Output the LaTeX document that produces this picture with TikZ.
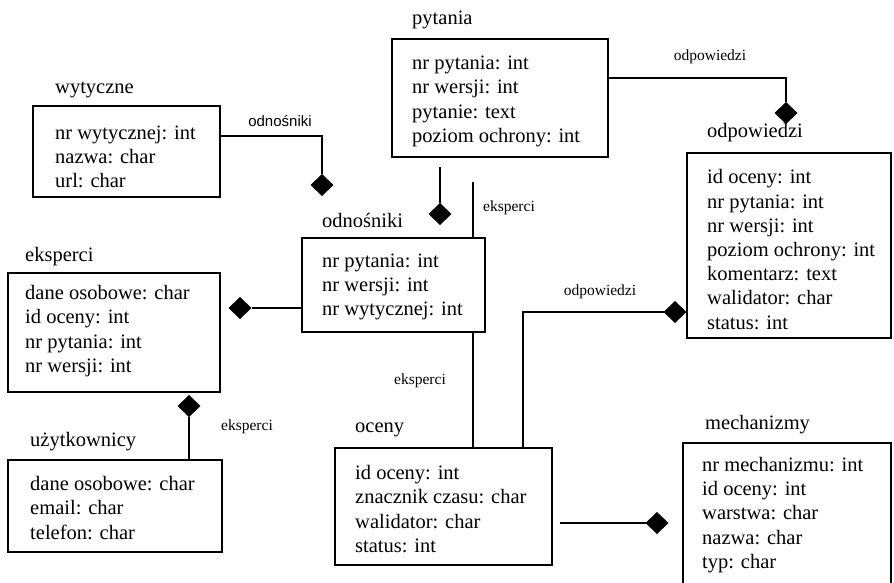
\documentclass[tikz,border=0pt]{standalone}
\usepackage{fontspec}
\setmainfont{Liberation Serif}
\newfontfamily\relsans{Liberation Sans}
\usetikzlibrary{shapes.geometric,calc}
\begin{document}
\begin{tikzpicture}[x=1pt,y=-1pt,
  entity/.style={draw,line width=1.5pt,fill=white,anchor=north west,inner sep=0pt,outer sep=0pt},
  fields/.style={anchor=west,inner sep=0pt,align=left,font=\fontsize{20.5}{24.2}\selectfont},
  title/.style={anchor=west,inner sep=0pt,font=\fontsize{20.5}{24}\selectfont},
  rel/.style={inner sep=0pt,font=\fontsize{15.5}{18}\selectfont},
  link/.style={line width=1.4pt},
  agg/.style={diamond,fill=black,inner sep=0pt,outer sep=0pt,minimum width=23pt,minimum height=22pt}]
\useasboundingbox (0,0) rectangle (894,582);
\clip (0,0) rectangle (894,582);

% entity boxes
\node[entity,minimum width=187pt,minimum height=91pt]  (wyt)  at (33,106) {};
\node[entity,minimum width=216pt,minimum height=118pt] (pyt)  at (392,39) {};
\node[entity,minimum width=204pt,minimum height=185pt] (odp)  at (687,153) {};
\node[entity,minimum width=212pt,minimum height=119pt] (eks)  at (8,273) {};
\node[entity,minimum width=214pt,minimum height=92pt]  (uzy)  at (8,460) {};
\node[entity,minimum width=217pt,minimum height=117pt] (oce)  at (335,448) {};
\node[entity,minimum width=208pt,minimum height=160pt] (mech) at (683,443) {};

% the eksperci line runs behind the odnosniki box
\coordinate (ekstop) at (473,182);
\draw[link] ($(oce.north west)+(138,0)$) -- (ekstop);
\node[entity,minimum width=183pt,minimum height=94pt]  (odn)  at (302,238) {};

% titles
\node[title] (wyt-t)  at (55,90)   {wytyczne};
\node[title] (pyt-t)  at (412,20)  {pytania};
\node[title] (odp-t)  at (707,133) {odpowiedzi};
\node[title] (eks-t)  at (25,257)  {eksperci};
\node[title] (uzy-t)  at (30,442)  {użytkownicy};
\node[title] (odn-t)  at (322,220) {odnośniki};
\node[title] (oce-t)  at (355,430) {oceny};
\node[title] (mech-t) at (705,425) {mechanizmy};

% attributes
\node[fields] (wyt-f)  at (55,157)   {nr wytycznej: int\\nazwa: char\\url: char};
\node[fields] (pyt-f)  at (412,101.5){nr pytania: int\\nr wersji: int\\pytanie: text\\poziom ochrony: int};
\node[fields] (odp-f)  at (707,249.5){id oceny: int\\nr pytania: int\\nr wersji: int\\poziom ochrony: int\\komentarz: text\\walidator: char\\status: int};
\node[fields] (eks-f)  at (25,331)   {dane osobowe: char\\id oceny: int\\nr pytania: int\\nr wersji: int};
\node[fields] (uzy-f)  at (30,508)   {dane osobowe: char\\email: char\\telefon: char};
\node[fields] (odn-f)  at (322,287)  {nr pytania: int\\nr wersji: int\\nr wytycznej: int};
\node[fields] (oce-f)  at (355,509)  {id oceny: int\\znacznik czasu: char\\walidator: char\\status: int};
\node[fields] (mech-f) at (702,515)  {nr mechanizmu: int\\id oceny: int\\warstwa: char\\nazwa: char\\typ: char};

% aggregation diamonds
\node[agg] (d1) at (322,185) {};
\node[agg] (d2) at (440,214) {};
\node[agg] (d3) at (786,113) {};
\node[agg] (d4) at (675,312) {};
\node[agg] (d5) at (240,308) {};
\node[agg] (d6) at (189,406) {};
\node[agg] (d7) at (657,523) {};

% relationships
\draw[link] ($(wyt.north east)+(0,30)$) -| (d1.north);
\draw[link] ($(pyt.south west)+(48,10)$) -- (d2.north);
\draw[link] ($(pyt.north east)+(0,39)$) -| (d3.north);
\draw[link] ($(oce.north west)+(188,0)$) |- (d4.west);
\draw[link] (d5.east) -- (d5.east -| odn.west);
\draw[link] ($(uzy.north west)+(181,0)$) -- (d6.south);
\draw[link] ($(oce.east |- d7.west)+(8,0)$) -- (d7.west);

% relationship labels
\node[rel,font=\relsans\fontsize{15}{18}\selectfont] (l1) at (280,121) {odnośniki};
\node[rel] (l2) at (710,57)  {odpowiedzi};
\node[rel] (l3) at (509,208) {eksperci};
\node[rel] (l4) at (420,381) {eksperci};
\node[rel] (l5) at (247,427) {eksperci};
\node[rel] (l6) at (600,292) {odpowiedzi};
\end{tikzpicture}
\end{document}
